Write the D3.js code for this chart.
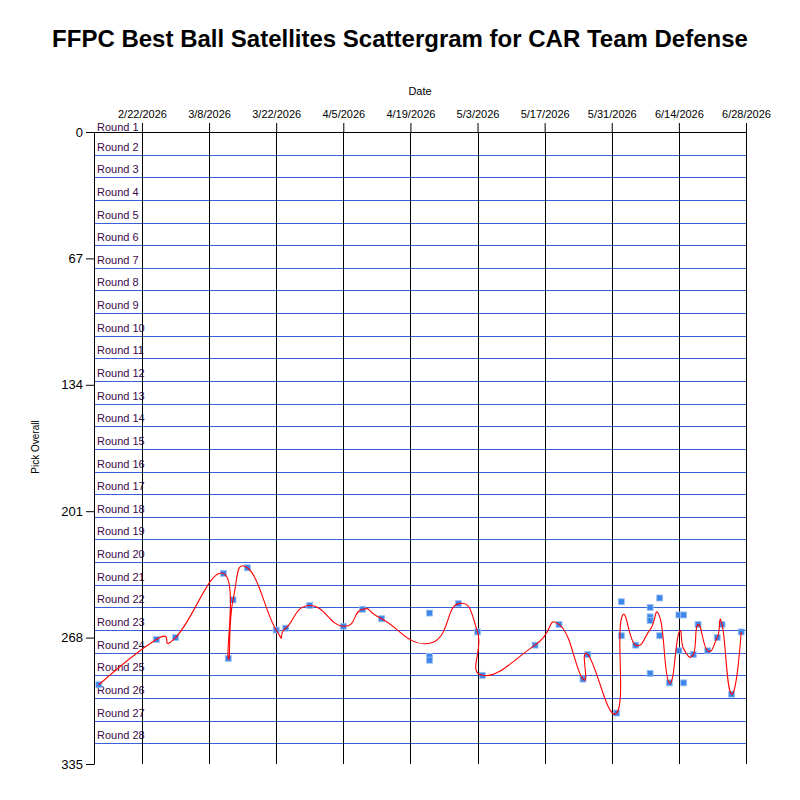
<!DOCTYPE html>
<html>
<head>
<meta charset="utf-8">
<script src="https://cdn.jsdelivr.net/npm/d3@7"></script>
<style>
  body { margin: 0; background: #fff; }
  svg { font-family: "Liberation Sans", Arial, sans-serif; }
  .y-axis-g text { font-size: 13px; }
  .x-axis-g text { font-size: 11px; }
  .round-label { font-size: 11px; fill: #3c0a4a; }
</style>
</head>
<body>
<svg id="chart" width="800" height="800"></svg>
<script>
// each pick: draft date and overall pick number
const pickDates = [
  "2026-02-13", "2026-02-25", "2026-03-01", "2026-03-11", "2026-03-12",
  "2026-03-13", "2026-03-16", "2026-03-22", "2026-03-24", "2026-03-29",
  "2026-04-05", "2026-04-09", "2026-04-13", "2026-04-23", "2026-04-23",
  "2026-04-23", "2026-04-29", "2026-05-03", "2026-05-04", "2026-05-15",
  "2026-05-20", "2026-05-25", "2026-05-26", "2026-06-01", "2026-06-02",
  "2026-06-02", "2026-06-05", "2026-06-08", "2026-06-08", "2026-06-08",
  "2026-06-08", "2026-06-10", "2026-06-10", "2026-06-12", "2026-06-14",
  "2026-06-14", "2026-06-15", "2026-06-15", "2026-06-17", "2026-06-18",
  "2026-06-20", "2026-06-22", "2026-06-23", "2026-06-25", "2026-06-27"
];
const pickNumbers = [
  293, 269, 268, 234, 279,
  248, 231, 264, 263, 251,
  262, 253, 258, 255, 278,
  280, 250, 265, 288, 272,
  261, 290, 277, 308, 249,
  267, 272, 252, 257, 259,
  287, 247, 267, 292, 256,
  275, 256, 292, 277, 261,
  275, 268, 261, 298, 265
];

const xDomain = ["2026-02-12", "2026-06-28"];
const dateTicks = ["2026-02-22", "2026-03-08", "2026-03-22", "2026-04-05", "2026-04-19",
  "2026-05-03", "2026-05-17", "2026-05-31", "2026-06-14", "2026-06-28"];
const pickTicks = [0, 67, 134, 201, 268, 335];
const roundCount = 28;
const teamSize = 12;

const parse = d3.timeParse("%Y-%m-%d");
const margin = { top: 132, left: 94, right: 54, bottom: 36 };
const width = 800 - margin.left - margin.right;
const height = 800 - margin.top - margin.bottom;

const svg = d3.select('svg#chart');
const g = svg.append('g')
  .attr('transform', `translate(${margin.left},${margin.top})`);

const xScale = d3.scaleTime()
  .domain(xDomain.map(parse))
  .range([0, width]);

const yScale = d3.scaleLinear()
  .domain([0, 335])
  .range([0, height]);

// round bands
const rounds = d3.range(1, roundCount + 1);
g.append('g').selectAll('line')
  .data(rounds)
  .join('line')
  .attr('x1', 0)
  .attr('x2', width)
  .attr('y1', r => Math.round(yScale((r - 1) * teamSize)) + 0.5)
  .attr('y2', r => Math.round(yScale((r - 1) * teamSize)) + 0.5)
  .attr('stroke', '#3a62d6')
  .attr('stroke-width', 1.2);

// label sits just above its line, kept under the top axis labels
g.append('g').selectAll('text')
  .data(rounds)
  .join('text')
  .attr('class', 'round-label')
  .attr('x', 3)
  .attr('y', r => Math.max(yScale((r - 1) * teamSize) - 4, -1))
  .text(r => `Round ${r}`);

// vertical date lines
g.append('g').selectAll('line')
  .data(dateTicks.map(parse))
  .join('line')
  .attr('x1', d => Math.round(xScale(d)) + 0.5)
  .attr('x2', d => Math.round(xScale(d)) + 0.5)
  .attr('y1', 0)
  .attr('y2', height)
  .attr('stroke', '#000');

const xAxis = d3.axisTop(xScale)
  .tickValues(dateTicks.map(parse))
  .tickFormat(d3.timeFormat("%-m/%-d/%Y"))
  .tickSize(9)
  .tickSizeOuter(0)
  .tickPadding(5);

const yAxis = d3.axisLeft(yScale)
  .tickValues(pickTicks)
  .tickSize(8)
  .tickSizeOuter(0)
  .tickPadding(3);

const xAxisG = g.append('g')
  .attr('class', 'x-axis-g')
  .call(xAxis);

const yAxisG = g.append('g')
  .attr('class', 'y-axis-g')
  .call(yAxis);

xAxisG.selectAll('text').attr('fill', '#000');
yAxisG.selectAll('text').attr('fill', '#000');

xAxisG.append('text')
  .attr('x', 326)
  .attr('y', -37)
  .attr('fill', 'black')
  .attr('text-anchor', 'middle')
  .text("Date");

yAxisG.append('text')
  .attr('transform', `rotate(-90)`)
  .attr('x', -height / 2 + 1)
  .attr('y', -55)
  .attr('fill', 'black')
  .attr('text-anchor', 'middle')
  .style('font-size', '10px')
  .text("Pick Overall");

// picks
const picks = pickDates.map((d, i) => ({ date: parse(d), pick: pickNumbers[i] }));

g.append('g').selectAll('rect')
  .data(picks)
  .join('rect')
  .attr('x', d => xScale(d.date) - 3)
  .attr('y', d => yScale(d.pick) - 3)
  .attr('width', 6)
  .attr('height', 6)
  .attr('fill', '#3f86ea')
  .attr('stroke', '#9fc4f4')
  .attr('stroke-width', 0.8);

// average pick per date, joined by a spline
const averages = d3.rollups(picks, v => d3.mean(v, p => p.pick), p => +p.date)
  .map(([t, m]) => ({ date: new Date(t), pick: m }))
  .sort((a, b) => a.date - b.date);

const line = d3.line()
  .x(d => xScale(d.date))
  .y(d => yScale(d.pick))
  .curve(d3.curveCardinal.tension(-0.6));

g.append('path')
  .datum(averages)
  .attr('fill', 'none')
  .attr('stroke', 'red')
  .attr('stroke-width', 1.1)
  .attr('d', line);

svg.append('text')
  .attr('x', 400)
  .attr('y', 47)
  .attr('text-anchor', 'middle')
  .style('font-size', '24px')
  .style('font-weight', 'bold')
  .text("FFPC Best Ball Satellites Scattergram for CAR Team Defense");
</script>
</body>
</html>
